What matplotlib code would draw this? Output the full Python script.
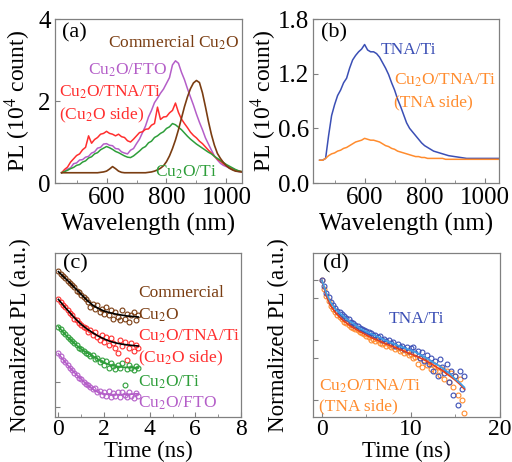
import numpy as np
import matplotlib
matplotlib.use("Agg")
import matplotlib.pyplot as plt

plt.rcParams['font.family'] = ['Liberation Serif', 'DejaVu Serif']
plt.rcParams['mathtext.fontset'] = 'stix'

# mau sac
c_brown = '#7a3d12'
c_purple = '#b45ec8'
c_red = '#ff2e2e'
c_green = '#2e9e3a'
c_blue = '#3b4fb5'
c_orange = '#ff8c2e'

# ---------------- (a) PL spectra ----------------
wl = np.arange(450, 1051, 10)
pl_commercial = [0.25, 0.25, 0.25, 0.25, 0.25, 0.25, 0.25, 0.25, 0.25, 0.25,
                 0.25, 0.25, 0.25, 0.26, 0.27, 0.29, 0.34, 0.40, 0.35, 0.29,
                 0.26, 0.25, 0.25, 0.25, 0.25, 0.25, 0.25, 0.25, 0.25, 0.26,
                 0.27, 0.29, 0.32, 0.36, 0.42, 0.52, 0.66, 0.84, 1.05, 1.30,
                 1.58, 1.86, 2.10, 2.30, 2.44, 2.50, 2.45, 2.20, 1.86, 1.50,
                 1.18, 0.92, 0.72, 0.60, 0.50, 0.42, 0.36, 0.32, 0.29, 0.28,
                 0.27]
pl_fto = [0.25, 0.28, 0.34, 0.37, 0.47, 0.49, 0.56, 0.57, 0.63, 0.65,
          0.73, 0.76, 0.85, 0.87, 0.95, 0.96, 0.92, 0.91, 0.84, 0.83,
          0.76, 0.73, 0.71, 0.80, 0.84, 0.96, 1.07, 1.23, 1.39, 1.61,
          1.77, 1.96, 2.07, 2.19, 2.29, 2.43, 2.57, 2.88, 2.98, 2.92,
          2.70, 2.52, 2.30, 2.10, 1.90, 1.68, 1.48, 1.30, 1.10, 0.95,
          0.80, 0.66, 0.56, 0.48, 0.43, 0.40, 0.36, 0.33, 0.30, 0.28,
          0.27]
pl_tna = [0.25, 0.33, 0.39, 0.51, 0.59, 0.67, 0.71, 0.81, 0.87, 1.15,
          0.97, 1.06, 1.11, 1.19, 1.21, 1.26, 1.21, 1.19, 1.15, 1.19,
          1.13, 1.11, 1.03, 1.00, 1.07, 1.15, 1.23, 1.25, 1.31, 1.32,
          1.41, 1.45, 1.85, 1.55, 1.61, 1.62, 1.71, 1.77, 1.95, 1.72,
          1.56, 1.45, 1.35, 1.24, 1.16, 1.10, 1.02, 0.96, 0.88, 0.80,
          0.73, 0.65, 0.58, 0.53, 0.47, 0.42, 0.38, 0.35, 0.32, 0.29,
          0.28]
pl_ti = [0.25, 0.28, 0.31, 0.35, 0.38, 0.43, 0.45, 0.51, 0.54, 0.61,
         0.64, 0.71, 0.74, 0.81, 0.85, 0.89, 0.86, 0.82, 0.77, 0.74,
         0.70, 0.66, 0.63, 0.62, 0.66, 0.72, 0.78, 0.85, 0.89, 0.98,
         1.02, 1.11, 1.15, 1.21, 1.25, 1.33, 1.37, 1.45, 1.42, 1.36,
         1.30, 1.22, 1.14, 1.07, 1.01, 0.95, 0.90, 0.85, 0.80, 0.75,
         0.71, 0.65, 0.60, 0.55, 0.50, 0.45, 0.41, 0.37, 0.33, 0.30,
         0.28]

# ---------------- (b) PL spectra TNA ----------------
pl_tna_ti = [0.25, 0.25, 0.27, 0.52, 0.74, 0.86, 0.96, 1.02, 1.10, 1.15,
             1.26, 1.35, 1.40, 1.44, 1.47, 1.52, 1.46, 1.44, 1.44, 1.42,
             1.38, 1.32, 1.26, 1.19, 1.10, 1.02, 0.92, 0.84, 0.75, 0.66,
             0.60, 0.56, 0.52, 0.48, 0.44, 0.41, 0.39, 0.37, 0.35, 0.34,
             0.33, 0.32, 0.31, 0.30, 0.295, 0.29, 0.285, 0.28, 0.275, 0.27,
             0.27, 0.27, 0.27, 0.27, 0.27, 0.27, 0.27, 0.27, 0.27, 0.27,
             0.27]
pl_tna_side = [0.25, 0.25, 0.27, 0.30, 0.32, 0.33, 0.35, 0.36, 0.38, 0.39,
               0.41, 0.43, 0.45, 0.46, 0.47, 0.49, 0.48, 0.47, 0.47, 0.46,
               0.45, 0.43, 0.41, 0.40, 0.38, 0.37, 0.35, 0.34, 0.33, 0.32,
               0.31, 0.30, 0.29, 0.29, 0.28, 0.28, 0.27, 0.27, 0.27, 0.27,
               0.27, 0.27, 0.26, 0.26, 0.26, 0.26, 0.26, 0.26, 0.26, 0.26,
               0.26, 0.26, 0.26, 0.26, 0.26, 0.26, 0.26, 0.26, 0.26, 0.26,
               0.26]

# ---------------- (c) TRPL (offset, a.u.) ----------------
t_c = np.arange(0, 3.51, 0.1)
t_c_fit = np.arange(0, 3.51, 0.25)
trpl_commercial = [8.9, 8.75, 8.62, 8.5, 8.3, 8.2, 8.05, 7.9, 7.7, 7.6,
                   7.45, 7.3, 7.2, 7.0, 6.7, 6.9, 6.6, 6.8, 6.4, 6.6,
                   6.3, 6.7, 6.2, 6.5, 6.0, 6.4, 6.1, 5.9, 6.5, 6.0,
                   6.3, 5.8, 6.2, 6.4, 5.9, 6.2]
trpl_tna = [7.2, 7.0, 6.85, 6.7, 6.5, 6.35, 6.2, 6.0, 5.9, 5.75,
            5.6, 5.5, 5.45, 5.2, 5.3, 5.0, 5.2, 4.9, 4.7, 5.0,
            4.6, 4.9, 4.4, 4.8, 4.5, 4.2, 3.9, 4.7, 4.3, 4.6,
            3.5, 4.2, 4.5, 4.0, 4.4, 4.2]
trpl_ti = [5.5, 5.35, 5.2, 5.05, 4.9, 4.75, 4.65, 4.5, 4.4, 4.2,
           4.15, 4.05, 3.9, 3.85, 3.7, 3.8, 3.55, 3.6, 3.35, 3.5,
           3.2, 3.4, 3.0, 3.3, 3.1, 2.9, 3.2, 3.0, 3.3, 1.95,
           2.9, 3.2, 3.0, 2.85, 3.1, 3.0]
trpl_fto = [3.9, 3.7, 3.5, 3.35, 3.2, 3.0, 2.85, 2.7, 2.55, 2.4,
            2.3, 2.15, 2.0, 1.95, 1.8, 1.7, 1.75, 1.55, 1.6, 1.35,
            1.5, 1.3, 1.6, 1.2, 1.45, 1.3, 1.55, 1.25, 1.5, 1.35,
            1.2, 1.5, 1.3, 1.15, 1.45, 1.3]
fit_commercial = [8.86, 8.52, 8.19, 7.83, 7.48, 7.12, 6.82, 6.62, 6.46, 6.36, 6.28, 6.22, 6.16, 6.13, 6.1]
fit_tna = [7.17, 6.75, 6.36, 5.98, 5.65, 5.37, 5.14, 4.93, 4.76, 4.62, 4.52, 4.45, 4.40, 4.36, 4.33]
fit_ti = [5.51, 5.10, 4.74, 4.42, 4.13, 3.92, 3.72, 3.50, 3.32, 3.18, 3.10, 3.05, 3.02, 3.01, 3.01]
fit_fto = [3.86, 3.42, 3.01, 2.64, 2.30, 1.98, 1.70, 1.50, 1.40, 1.37, 1.36, 1.37, 1.38, 1.40, 1.42]

# ---------------- (d) TRPL TNA (log) ----------------
t_d = np.arange(0, 16.01, 0.25)
t_d_fit = np.arange(0, 16.01, 0.5)
trpl_tna_ti = [1.0, 0.8, 0.62, 0.52, 0.43, 0.39, 0.34, 0.31, 0.29, 0.27,
               0.25, 0.235, 0.22, 0.2, 0.195, 0.18, 0.17, 0.16, 0.155, 0.145,
               0.14, 0.135, 0.13, 0.12, 0.12, 0.11, 0.115, 0.1, 0.105, 0.095,
               0.1, 0.088, 0.092, 0.08, 0.085, 0.075, 0.08, 0.07, 0.075, 0.065,
               0.072, 0.075, 0.06, 0.065, 0.05, 0.062, 0.045, 0.055, 0.04, 0.05,
               0.03, 0.045, 0.025, 0.048, 0.035, 0.028, 0.04, 0.02, 0.03, 0.012,
               0.025, 0.008, 0.03, 0.015, 0.025]
trpl_tna_side = [1.0, 0.72, 0.55, 0.45, 0.37, 0.33, 0.29, 0.26, 0.24, 0.22,
                 0.2, 0.19, 0.18, 0.165, 0.16, 0.15, 0.145, 0.135, 0.13, 0.125,
                 0.115, 0.11, 0.1, 0.105, 0.095, 0.1, 0.09, 0.085, 0.09, 0.08,
                 0.082, 0.075, 0.078, 0.07, 0.072, 0.065, 0.068, 0.06, 0.063, 0.055,
                 0.058, 0.05, 0.052, 0.04, 0.05, 0.035, 0.046, 0.038, 0.042, 0.033,
                 0.04, 0.03, 0.035, 0.026, 0.033, 0.022, 0.03, 0.02, 0.028, 0.016,
                 0.025, 0.012, 0.022, 0.01, 0.006]
fit_tna_ti = [1.0, 0.6, 0.42, 0.33, 0.28, 0.245, 0.21, 0.19, 0.165, 0.15, 0.137,
              0.127, 0.118, 0.109, 0.1, 0.093, 0.087, 0.081, 0.076, 0.071, 0.067,
              0.062, 0.057, 0.052, 0.047, 0.042, 0.038, 0.034, 0.03, 0.026, 0.022,
              0.019, 0.016]
fit_tna_side = [1.0, 0.55, 0.37, 0.29, 0.24, 0.205, 0.18, 0.16, 0.145, 0.132, 0.12,
                0.11, 0.102, 0.095, 0.088, 0.082, 0.077, 0.072, 0.067, 0.062, 0.058,
                0.054, 0.05, 0.046, 0.042, 0.038, 0.034, 0.031, 0.027, 0.024, 0.021,
                0.018, 0.015]

W, H = 512, 462
fig = plt.figure(figsize=(W / 100, H / 100), dpi=100)


def px_axes(l, t, r, b):
    return fig.add_axes([l / W, 1 - b / H, (r - l) / W, (b - t) / H])


def style(ax, size=18, pad=3):
    for s in ax.spines.values():
        s.set_color('#808080')
        s.set_linewidth(0.9)
    ax.tick_params(which='both', direction='in', color='#808080', labelsize=size, pad=pad)
    ax.tick_params(which='major', length=3.5)
    ax.tick_params(which='minor', length=2)


def label(x, y, s, color='k', size=12.5):
    fig.text(x / W, 1 - y / H, s, color=color, fontsize=size, ha='left', va='center')


ax_a = px_axes(55, 19, 242, 183)
ax_b = px_axes(313, 19, 499, 183)
ax_c = px_axes(55, 253, 241, 417)
ax_d = px_axes(313, 253, 500, 417)

# (a)
ax_a.plot(wl, pl_fto, color=c_purple, lw=1.1)
ax_a.plot(wl, pl_tna, color=c_red, lw=1.1)
ax_a.plot(wl, pl_ti, color=c_green, lw=1.1)
ax_a.plot(wl, pl_commercial, color=c_brown, lw=1.2)
ax_a.set_xlim(428, 1052)
ax_a.set_ylim(0, 4)
ax_a.set_yticks([0, 2, 4])
ax_a.set_xticks([600, 800, 1000])
ax_a.set_xticks([500, 700, 900], minor=True)

# (b)
ax_b.plot(wl, pl_tna_ti, color=c_blue, lw=1.1)
ax_b.plot(wl, pl_tna_side, color=c_orange, lw=1.1)
ax_b.set_xlim(428, 1048)
ax_b.set_ylim(0, 1.8)
ax_b.set_yticks([0, 0.6, 1.2, 1.8])
ax_b.set_yticklabels(['0.0', '0.6', '1.2', '1.8'])
ax_b.set_xticks([600, 800, 1000])
ax_b.set_xticks([500, 700, 900], minor=True)

for ax in (ax_a, ax_b):
    style(ax)
    ax.set_xlabel('Wavelength (nm)', fontsize=18)
    ax.set_ylabel('PL (10$^4$ count)', fontsize=17)
    ax.xaxis.set_label_coords(0.5, -0.18)
ax_a.yaxis.set_label_coords(-0.115, 0.5)
ax_b.yaxis.set_label_coords(-0.185, 0.5)

# (c)
for y, yf, c, lc in [(trpl_commercial, fit_commercial, c_brown, 'k'),
                     (trpl_tna, fit_tna, c_red, 'k'),
                     (trpl_ti, fit_ti, c_green, c_green),
                     (trpl_fto, fit_fto, c_purple, c_purple)]:
    ax_c.plot(t_c, y, 'o', mfc='none', mec=c, ms=3.5, mew=0.8)
    ax_c.plot(t_c_fit, yf, color=lc, lw=1.2)
ax_c.set_xlim(-0.15, 8)
ax_c.set_ylim(0, 10)
ax_c.set_xticks([0, 2, 4, 6, 8])
ax_c.set_xticks([1, 3, 5, 7], minor=True)
ax_c.set_yticks([0.6, 2.15])
ax_c.set_yticklabels([])

# (d)
ax_d.plot(t_d, trpl_tna_side, 'o', mfc='none', mec=c_orange, ms=3.5, mew=0.8)
ax_d.plot(t_d, trpl_tna_ti, 'o', mfc='none', mec=c_blue, ms=3.5, mew=0.8)
ax_d.plot(t_d_fit, fit_tna_side, color='#e8401a', lw=1.2)
ax_d.plot(t_d_fit, fit_tna_ti, color='#3fa0e8', lw=1.2)
ax_d.set_yscale('log')
ax_d.set_xlim(-1, 20)
ax_d.set_ylim(0.0051, 2.86)
ax_d.set_xticks([0, 10, 20])
ax_d.set_xticks([5, 15], minor=True)
ax_d.set_yticks([0.01, 0.05, 0.1, 0.5, 1])
ax_d.set_yticks([], minor=True)
ax_d.set_yticklabels([])

for ax in (ax_c, ax_d):
    style(ax, size=17, pad=1.5)
    ax.set_xlabel('Time (ns)', fontsize=16.5)
    ax.set_ylabel('Normalized PL (a.u.)', fontsize=16.5)
    ax.xaxis.set_label_coords(0.5, -0.147)
    ax.yaxis.set_label_coords(-0.13, 0.5)

# chu thich
label(62, 33, '(a)', size=16)
label(108, 43, 'Commercial Cu$_2$O', c_brown)
label(88, 70, 'Cu$_2$O/FTO', c_purple)
label(59, 92, 'Cu$_2$O/TNA/Ti', c_red)
label(59, 115, '(Cu$_2$O side)', c_red)
label(155, 172, 'Cu$_2$O/Ti', c_green)

label(321, 33, '(b)', size=16)
label(381, 50, 'TNA/Ti', c_blue)
label(394, 80, 'Cu$_2$O/TNA/Ti', c_orange)
label(394, 102, '(TNA side)', c_orange)

label(63, 264, '(c)', size=16)
label(138, 293, 'Commercial', c_brown)
label(138, 315, 'Cu$_2$O', c_brown)
label(138, 336, 'Cu$_2$O/TNA/Ti', c_red)
label(138, 358, '(Cu$_2$O side)', c_red)
label(138, 382, 'Cu$_2$O/Ti', c_green)
label(138, 403, 'Cu$_2$O/FTO', c_purple)

label(323, 264, '(d)', size=16)
label(389, 319, 'TNA/Ti', c_blue)
label(319, 386, 'Cu$_2$O/TNA/Ti', c_orange)
label(319, 406, '(TNA side)', c_orange)

fig.savefig('out.png', dpi=100)
